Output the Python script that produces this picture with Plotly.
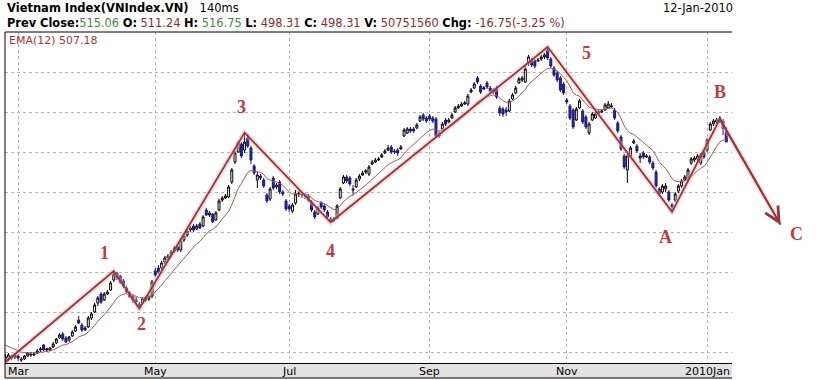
import pandas as pd
import plotly.graph_objects as go

# ---------------- data (VN-Index daily OHLC) ----------------
HOLIDAYS = ["2009-04-30", "2009-05-01", "2009-09-02", "2010-01-01"]

open_ = [
    225.8, 228.3, 230.8, 229.6,
    230.8, 227.1, 227.1, 230.8, 233.3, 232.1, 234.6, 238.3, 244.6, 238.3, 238.3, 242.1, 247.1, 253.3, 258.3, 253.3, 250.8, 255.8, 262.1, 275.8, 269.6, 263.3,
    267.1, 278.3, 285.8, 297.1, 308.3, 300.8, 308.3, 313.3, 325.8, 334.6, 330.8, 324.6, 315.8, 309.6, 305.8, 300.8, 295.8, 297.1, 300.8, 302.1, 305.8,
    337.1, 340.8, 340.8, 348.3, 353.3, 357.1, 362.1, 367.1, 363.3, 375.8, 382.1, 388.3, 393.3, 389.6, 395.8, 393.3, 413.3, 407.1, 408.3, 400.8,
    413.3, 425.8, 428.3, 429.6, 448.3, 473.3, 485.8, 495.8, 488.3, 503.3, 490.8, 468.3, 450.8, 455.8, 450.8, 432.1, 427.1, 453.3, 442.1, 448.3, 435.8, 424.6,
    418.3, 412.1, 422.1, 433.3, 433.3, 432.1, 430.8, 423.3, 410.8, 408.3, 422.1, 418.3, 410.8, 402.1, 400.8, 403.3, 428.3, 447.1, 454.6, 453.3, 439.6, 442.1, 452.1,
    457.1, 460.8, 458.3, 470.8, 473.3, 475.8, 479.6, 484.6, 488.3, 492.1, 487.1, 488.3, 489.6, 505.8, 509.6, 514.6, 514.6, 515.8, 524.6, 532.1, 528.3,
    530.8, 528.3, 527.1, 508.3, 514.6, 525.8, 523.3, 528.3, 535.8, 540.8, 543.3, 545.8, 545.8, 560.8, 565.8, 578.3, 568.3, 564.6, 572.1, 565.8, 563.3,
    564.6, 540.8, 539.6, 538.3, 537.1, 552.1, 559.6, 572.1, 575.8, 573.3, 597.1, 600.8, 599.6, 599.6, 602.1, 604.6, 613.3, 602.1, 590.8, 584.6, 578.3, 570.8,
    550.8, 543.3, 538.3, 525.8, 540.8, 537.1, 529.6, 509.6, 525.8, 528.3, 534.6, 535.8, 538.3, 540.8, 542.1, 538.3, 522.1, 504.6, 480.8, 463.3, 480.8,
    497.1, 493.3, 478.3, 484.6, 479.6, 479.6, 472.1, 460.8, 439.6, 435.8, 439.6, 435.8, 419.6, 425.8, 437.1, 443.3, 450.8, 450.8, 472.1, 475.8, 477.1, 472.1, 485.8,
    488.3, 513.3, 520.8, 523.3, 524.6, 524.6, 511.24,
]
high_ = [
    233.3, 234.6, 232.1, 234.6,
    233.3, 229.6, 232.1, 235.8, 235.8, 235.8, 239.6, 242.1, 245.8, 240.8, 242.1, 248.3, 253.3, 259.6, 260.8, 255.8, 255.8, 263.3, 269.6, 280.8, 272.1, 268.3,
    280.8, 285.8, 297.1, 305.8, 310.8, 310.8, 313.3, 324.6, 337.1, 335.8, 332.1, 327.1, 318.3, 312.1, 308.3, 304.6, 298.3, 304.6, 305.8, 307.1, 325.8,
    340.8, 344.6, 349.6, 355.8, 358.3, 363.3, 368.3, 369.6, 377.1, 383.3, 389.6, 393.3, 395.8, 395.8, 398.3, 407.1, 415.8, 412.1, 409.6, 412.1,
    427.1, 430.8, 433.3, 444.6, 465.8, 487.1, 499.6, 498.3, 509.6, 508.3, 493.3, 470.8, 460.8, 458.3, 453.3, 434.6, 442.1, 455.8, 447.1, 450.8, 438.3, 427.1,
    420.8, 422.1, 438.3, 437.1, 435.8, 434.6, 433.3, 425.8, 413.3, 418.3, 424.6, 420.8, 413.3, 404.6, 404.6, 420.8, 442.1, 457.1, 457.1, 455.8, 444.6, 453.3, 458.3,
    462.1, 464.6, 469.6, 475.8, 478.3, 479.6, 484.6, 489.6, 494.6, 494.6, 489.6, 490.8, 494.6, 515.8, 517.1, 517.1, 517.1, 522.1, 532.1, 534.6, 530.8,
    533.3, 530.8, 529.6, 512.1, 523.3, 528.3, 528.3, 534.6, 543.3, 545.8, 548.3, 549.6, 558.3, 565.8, 573.3, 580.8, 570.8, 568.3, 574.6, 568.3, 565.8,
    568.3, 543.3, 542.1, 542.1, 552.1, 559.6, 568.3, 579.6, 580.8, 593.3, 607.1, 603.3, 602.1, 603.3, 607.1, 609.6, 618.3, 604.6, 593.3, 587.1, 580.8, 573.3,
    553.3, 545.8, 540.8, 542.1, 552.1, 539.6, 532.1, 523.3, 535.8, 535.8, 538.3, 539.6, 547.1, 549.6, 547.1, 540.8, 524.6, 507.1, 483.3, 483.3, 493.3,
    502.1, 495.8, 484.6, 487.1, 483.3, 482.1, 474.6, 463.3, 442.1, 445.8, 447.1, 438.3, 422.1, 435.8, 445.8, 452.1, 457.1, 465.8, 479.6, 480.8, 483.3, 484.6, 488.3,
    503.3, 523.3, 527.1, 528.3, 530.8, 527.1, 516.75,
]
low_ = [
    223.3, 224.6, 225.8, 227.1,
    224.6, 223.3, 225.8, 229.6, 229.6, 230.8, 233.3, 235.8, 237.1, 235.8, 237.1, 240.8, 245.8, 252.1, 249.6, 247.1, 248.3, 254.6, 260.8, 270.8, 260.8, 262.1,
    265.8, 275.8, 284.6, 293.3, 295.8, 299.6, 307.1, 312.1, 323.3, 325.8, 320.8, 315.8, 308.3, 303.3, 297.1, 295.8, 289.6, 295.8, 298.3, 299.6, 303.3,
    329.6, 333.3, 338.3, 345.8, 350.8, 354.6, 359.6, 360.8, 360.8, 373.3, 379.6, 385.8, 385.8, 388.3, 389.6, 392.1, 405.8, 404.6, 397.1, 399.6,
    412.1, 423.3, 427.1, 428.3, 445.8, 470.8, 484.6, 478.3, 484.6, 490.8, 470.8, 457.1, 440.8, 450.8, 440.8, 422.1, 424.6, 438.3, 439.6, 433.3, 430.8, 412.1,
    410.8, 409.6, 419.6, 429.6, 428.3, 427.1, 423.3, 410.8, 402.1, 407.1, 414.6, 410.8, 402.1, 398.3, 398.3, 402.1, 427.1, 445.8, 447.1, 443.3, 432.1, 440.8, 449.6,
    455.8, 458.3, 455.8, 469.6, 472.1, 474.6, 478.3, 483.3, 487.1, 483.3, 483.3, 480.8, 488.3, 504.6, 508.3, 509.6, 509.6, 514.6, 523.3, 524.6, 522.1,
    524.6, 522.1, 503.3, 503.3, 513.3, 518.3, 522.1, 527.1, 534.6, 539.6, 542.1, 544.6, 543.3, 559.6, 564.6, 570.8, 558.3, 563.3, 564.6, 559.6, 558.3,
    552.1, 530.8, 529.6, 530.8, 535.8, 550.8, 558.3, 570.8, 573.3, 572.1, 593.3, 592.1, 590.8, 598.3, 599.6, 602.1, 600.8, 590.8, 579.6, 573.3, 560.8, 557.1,
    545.8, 525.8, 514.6, 524.6, 539.6, 520.8, 514.6, 507.1, 524.6, 527.1, 532.1, 534.6, 537.1, 539.6, 540.8, 525.8, 509.6, 487.1, 464.6, 447.1, 478.3,
    495.8, 484.6, 472.1, 477.1, 478.3, 470.8, 463.3, 440.8, 430.8, 433.3, 435.8, 423.3, 410.8, 423.3, 434.6, 440.8, 449.6, 448.3, 469.6, 473.3, 474.6, 469.6, 477.1,
    485.8, 512.1, 518.3, 520.8, 522.1, 507.1, 498.31,
]
close_ = [
    229.6, 232.1, 228.3, 232.1,
    228.3, 225.8, 230.8, 234.6, 232.1, 233.3, 237.1, 239.6, 238.3, 239.6, 240.8, 245.8, 252.1, 257.1, 252.1, 248.3, 254.6, 260.8, 267.1, 272.1, 263.3, 265.8,
    278.3, 283.3, 294.6, 303.3, 298.3, 308.3, 310.8, 322.1, 333.3, 328.3, 323.3, 318.3, 310.8, 304.6, 300.8, 298.3, 293.3, 302.1, 303.3, 304.6, 323.3,
    332.1, 335.8, 347.1, 353.3, 355.8, 360.8, 365.8, 363.3, 374.6, 380.8, 387.1, 390.8, 388.3, 393.3, 390.8, 404.6, 407.1, 409.6, 398.3, 409.6,
    424.6, 428.3, 430.8, 442.1, 463.3, 484.6, 497.1, 480.8, 498.3, 493.3, 475.8, 459.6, 457.1, 453.3, 443.3, 424.6, 439.6, 440.8, 444.6, 435.8, 433.3, 414.6,
    414.6, 419.6, 433.3, 434.6, 432.1, 430.8, 425.8, 413.3, 404.6, 415.8, 417.1, 413.3, 404.6, 399.6, 402.1, 418.3, 439.6, 454.6, 449.6, 445.8, 438.3, 450.8, 455.8,
    459.6, 462.1, 467.1, 473.3, 475.8, 477.1, 482.1, 487.1, 490.8, 485.8, 485.8, 484.6, 492.1, 513.3, 514.6, 512.1, 512.1, 519.6, 529.6, 527.1, 524.6,
    527.1, 524.6, 505.8, 505.8, 520.8, 520.8, 525.8, 532.1, 540.8, 543.3, 545.8, 547.1, 555.8, 563.3, 570.8, 573.3, 560.8, 565.8, 567.1, 562.1, 560.8,
    554.6, 534.6, 533.3, 535.8, 549.6, 557.1, 565.8, 577.1, 578.3, 589.6, 604.6, 594.6, 593.3, 600.8, 604.6, 607.1, 603.3, 593.3, 582.1, 575.8, 563.3, 559.6,
    548.3, 528.3, 517.1, 539.6, 549.6, 523.3, 517.1, 520.8, 533.3, 533.3, 535.8, 537.1, 544.6, 545.8, 543.3, 528.3, 512.1, 489.6, 467.1, 480.8, 490.8,
    499.6, 487.1, 480.8, 479.6, 480.8, 473.3, 465.8, 443.3, 433.3, 443.3, 443.3, 425.8, 417.1, 433.3, 443.3, 449.6, 454.6, 463.3, 477.1, 478.3, 480.8, 482.1, 479.6,
    500.8, 520.8, 524.6, 525.8, 528.3, 515.06, 498.31,
]
ema_start = 247.1  # EMA(12) value at the left edge of the window

tick_dates = ["2009-03-02", "2009-05-04", "2009-07-01", "2009-09-01", "2009-11-02", "2010-01-04"]
tick_text = ["Mar", "May", "Jul", "Sep", "Nov", "2010Jan"]

# Elliott-wave count drawn on the chart
wave_dates = ["2009-02-24", "2009-04-13", "2009-04-23", "2009-06-11", "2009-07-20",
              "2009-10-23", "2009-12-17", "2010-01-08", "2010-02-04"]
wave_values = [223, 337, 290, 510, 398, 617, 411, 527, 395]
wave_labels = ["", "1", "2", "3", "4", "5", "A", "B", "C"]

# ---------------- derived ----------------
sessions = pd.bdate_range("2009-02-24", "2010-02-10", freq="C",
                          holidays=HOLIDAYS).strftime("%Y-%m-%d").tolist()
n = len(close_)
dates = sessions[:n]
pos = {d: i for i, d in enumerate(sessions)}
xs = [pos[d] for d in dates]
ema = pd.Series([ema_start] + close_).ewm(span=12, adjust=False).mean().tolist()[1:]
wx = [pos[d] for d in wave_dates]

# ---------------- layout geometry ----------------
W, H = 827, 380
ML, MT, MB = 5, 32, 17
PW = W - ML
PH = H - MT - MB
MAIN_W = 727
x_lo, x_hi = -0.1, n + 0.8
x2_hi = x_lo + (x_hi - x_lo) * PW / MAIN_W
y_lo, y_hi = 222.06, 635.81

WAVE_DARK = "#9a3535"
LABEL_RED = "#c23b3b"
GRID = "#b4b4b4"
FONT = "DejaVu Sans"

fig = go.Figure()
fig.add_trace(go.Candlestick(
    x=xs, open=open_, high=high_, low=low_, close=close_, text=dates,
    xaxis="x", yaxis="y", whiskerwidth=0,
    increasing=dict(line=dict(color="black", width=1), fillcolor="white"),
    decreasing=dict(line=dict(color="#14147e", width=1), fillcolor="#2a2aa4"),
    showlegend=False,
))
fig.add_trace(go.Scatter(x=xs, y=ema, mode="lines", xaxis="x", yaxis="y",
                         line=dict(color="#b4554f", width=1), showlegend=False))
fig.add_trace(go.Scatter(x=wx, y=wave_values, mode="lines", xaxis="x2", yaxis="y2",
                         line=dict(color="rgba(240,175,175,0.45)", width=5), showlegend=False))
fig.add_trace(go.Scatter(x=wx, y=wave_values, mode="lines", xaxis="x2", yaxis="y2",
                         line=dict(color=WAVE_DARK, width=1.8), showlegend=False))

annotations = []
# arrow head B -> C
annotations.append(dict(xref="x2", yref="y2", x=wx[-1], y=wave_values[-1],
                        axref="x2", ayref="y2", ax=wx[-2], ay=wave_values[-2],
                        showarrow=True, arrowhead=5, arrowsize=1.6, arrowwidth=1.8,
                        arrowcolor=WAVE_DARK, text=""))
label_shift = [(0, 0), (-9, 18), (2, -15), (-3, 26), (0, -29), (39, -6), (-7, -25), (0, 27), (16, -9)]
for i in range(1, len(wx)):
    annotations.append(dict(xref="x2", yref="y2", x=wx[i], y=wave_values[i],
                            text="<b>%s</b>" % wave_labels[i], showarrow=False,
                            xshift=label_shift[i][0], yshift=label_shift[i][1],
                            font=dict(family="Liberation Serif", size=18, color=LABEL_RED)))

GREEN = "#3d8b3d"
MAROON = "#8b2c2c"
line2 = ("<b>Prev Close:</b><span style='color:%s'>515.06</span> "
         "<b>O:</b> <span style='color:%s'>511.24</span> "
         "<b>H:</b> <span style='color:%s'>516.75</span> "
         "<b>L:</b> <span style='color:%s'>498.31</span> "
         "<b>C:</b> <span style='color:%s'>498.31</span> "
         "<b>V:</b> <span style='color:%s'>50751560</span> "
         "<b>Chg:</b> <span style='color:%s'>-16.75(-3.25 %%)</span>"
         % (GREEN, MAROON, GREEN, MAROON, MAROON, MAROON, MAROON))
annotations += [
    dict(xref="paper", yref="paper", x=0, y=1 + 24 / PH, xanchor="left", yanchor="middle",
         text="<b>Vietnam Index(VNIndex.VN)</b>&nbsp;&nbsp; 140ms", showarrow=False,
         font=dict(family=FONT, size=11.5, color="black")),
    dict(xref="paper", yref="paper", x=0, y=1 + 9 / PH, xanchor="left", yanchor="middle",
         text=line2, showarrow=False, font=dict(family=FONT, size=11.4, color="black")),
    dict(xref="paper", yref="paper", x=(MAIN_W + 3) / PW, y=1 + 24 / PH, xanchor="right", yanchor="middle",
         text="12-Jan-2010", showarrow=False, font=dict(family=FONT, size=11.4, color="black")),
    dict(xref="paper", yref="paper", x=2 / PW, y=1 - 8 / PH, xanchor="left", yanchor="middle",
         text="EMA(12) 507.18", showarrow=False, font=dict(family=FONT, size=11, color="#b03434")),
]
# month labels inside the grey axis band
for d, t in zip(tick_dates, tick_text):
    annotations.append(dict(xref="x", yref="y domain", x=pos[d], y=-8 / PH,
                            xanchor="center", yanchor="middle", text=t, showarrow=False,
                            font=dict(family=FONT, size=11, color="black")))

shapes = [
    dict(type="rect", xref="x domain", yref="y domain", x0=0, x1=1, y0=-15 / PH, y1=-1 / PH,
         fillcolor="#e2e2e2", line=dict(width=0), layer="below"),
    dict(type="line", xref="x domain", yref="y domain", x0=0, x1=1, y0=-15 / PH, y1=-15 / PH,
         line=dict(color="black", width=1)),
    dict(type="line", xref="x domain", yref="y domain", x0=0, x1=1, y0=1, y1=1,
         line=dict(color="black", width=1)),
    dict(type="line", xref="x domain", yref="y domain", x0=0, x1=0, y0=-15 / PH, y1=1,
         line=dict(color="black", width=1)),
]

fig.update_layout(
    template="none",
    width=W, height=H,
    margin=dict(l=ML, r=0, t=MT, b=MB, pad=0),
    paper_bgcolor="white", plot_bgcolor="rgba(0,0,0,0)",
    font=dict(family=FONT, size=11, color="black"),
    showlegend=False,
    boxgap=0.12,
    xaxis=dict(domain=[0, MAIN_W / PW], range=[x_lo, x_hi], anchor="y",
               tickvals=[pos[d] for d in tick_dates], showticklabels=False,
               showgrid=True, gridcolor=GRID, griddash="dot", gridwidth=1,
               zeroline=False, showline=True, linecolor="black", linewidth=1,
               ticks="", rangeslider=dict(visible=False), fixedrange=True, automargin=False),
    yaxis=dict(domain=[0, 1], range=[y_lo, y_hi], anchor="x", tick0=235.81, dtick=50,
               showgrid=True, gridcolor=GRID, griddash="dot", gridwidth=1,
               zeroline=False, showticklabels=False, ticks="", showline=False,
               fixedrange=True, automargin=False),
    xaxis2=dict(domain=[0, 1], range=[x_lo, x2_hi], anchor="y2", visible=False, fixedrange=True),
    yaxis2=dict(domain=[0, 1], range=[y_lo, y_hi], anchor="x2", visible=False, fixedrange=True),
    annotations=annotations,
    shapes=shapes,
)

fig.write_html("out.html", config={"displayModeBar": False},
               post_script="document.body.style.margin='0';document.body.style.padding='0';")
